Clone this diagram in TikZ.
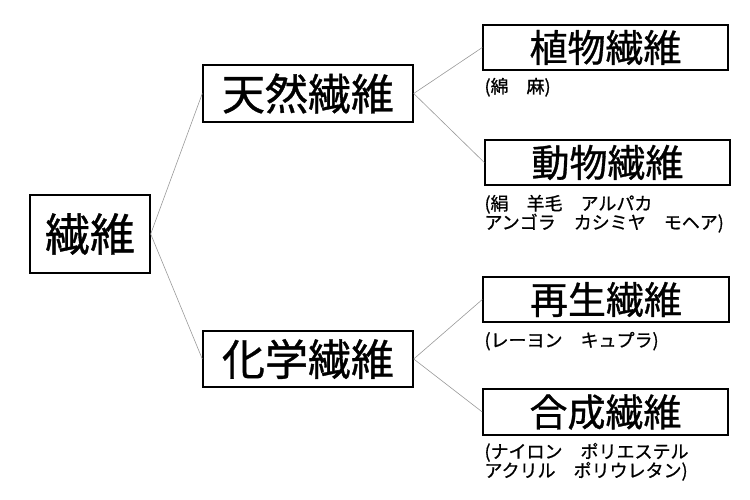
\documentclass[tikz,border=0pt]{standalone}
\usepackage{fontspec}
\setmainfont{Noto Sans CJK JP}[FakeBold=0.8]
\tikzset{
  fbox/.style={draw=black,line width=1.4pt,fill=white,inner sep=0pt},
  fnote/.style={anchor=north west,inner sep=0pt,align=left,font=\fontsize{18}{19}\selectfont},
  fline/.style={draw=gray!80,line width=0.6pt}
}
\begin{document}
\begin{tikzpicture}[x=1pt,y=-1pt]
        \useasboundingbox (0,0) rectangle (750,500);
        \node[fbox,minimum width=120,minimum height=78,font=\fontsize{45}{45}\selectfont](root)at(90,234){繊維};
        \node[fbox,minimum width=210,minimum height=57,font=\fontsize{43}{43}\selectfont](ten)at(308,93.5){天然繊維};
        \node[fbox,minimum width=210,minimum height=56,font=\fontsize{43}{43}\selectfont](kag)at(308,359){化学繊維};
        \node[fbox,minimum width=245,minimum height=45,font=\fontsize{38}{38}\selectfont](sho)at(605.5,47.5){植物繊維};
        \node[fbox,minimum width=245,minimum height=45,font=\fontsize{38}{38}\selectfont](dob)at(607.5,162.5){動物繊維};
        \node[fbox,minimum width=246,minimum height=45,font=\fontsize{38}{38}\selectfont](sai)at(606,299.5){再生繊維};
        \node[fbox,minimum width=245,minimum height=46,font=\fontsize{38}{38}\selectfont](gos)at(605.5,412){合成繊維};
        % notes under the boxes
        \node[fnote](shon)at([xshift=2pt,yshift=-7pt]sho.south west){(綿　麻)};
        \node[fnote](dobn)at([yshift=-9pt]dob.south west){(絹　羊毛　アルパカ\\アンゴラ　カシミヤ　モヘア)};
        \node[fnote](sain)at([xshift=2pt,yshift=-9pt]sai.south west){(レーヨン　キュプラ)};
        \node[fnote](gosn)at([xshift=2pt,yshift=-7pt]gos.south west){(ナイロン　ポリエステル\\アクリル　ポリウレタン)};
        \draw[fline](root.east)--(ten.west);
        \draw[fline](root.east)--(kag.west);
        \draw[fline](ten.east)--(sho.west);
        \draw[fline](ten.east)--(dob.west);
        \draw[fline](kag.east)--(sai.west);
        \draw[fline](kag.east)--(gos.west);
    \end{tikzpicture}
\end{document}
